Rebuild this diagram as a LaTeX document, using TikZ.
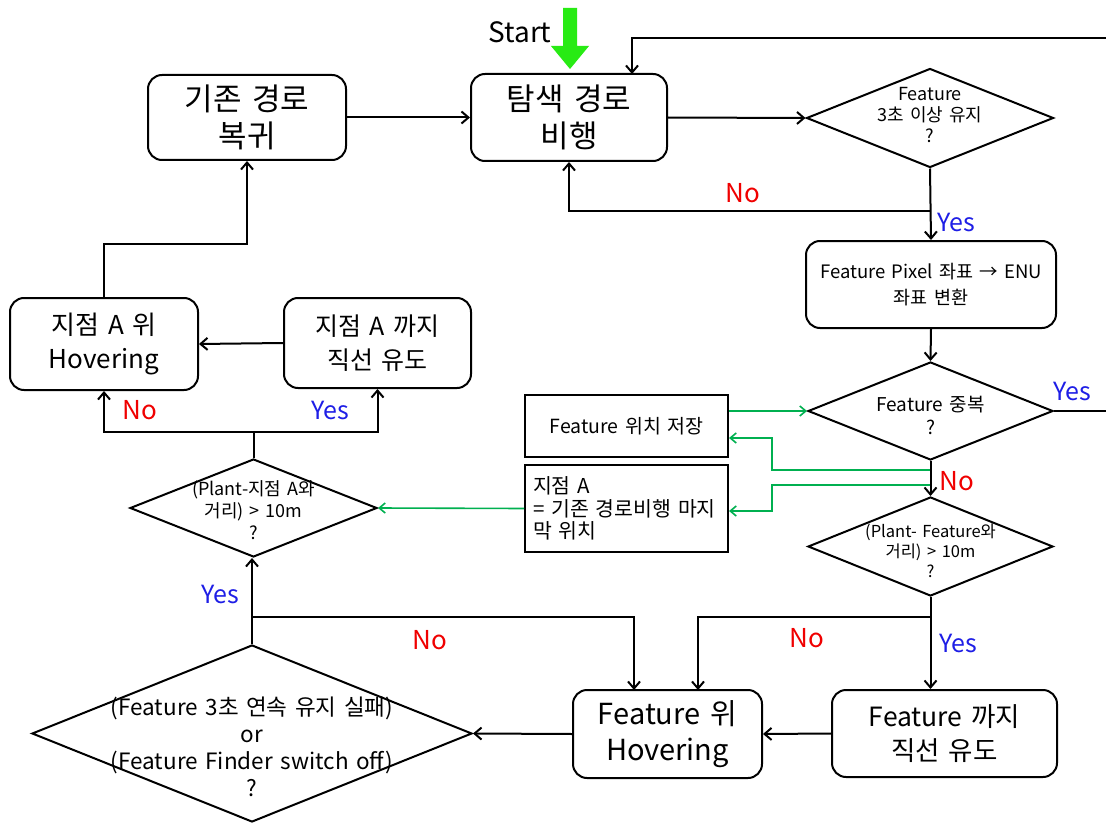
\documentclass[tikz,border=0pt]{standalone}
\usepackage{fontspec}
\setmainfont{Noto Sans CJK KR}[WordSpace=1.5]
\usetikzlibrary{arrows.meta,shapes.geometric}
\definecolor{gline}{RGB}{0,176,80}
\definecolor{startg}{RGB}{40,235,20}
\definecolor{nored}{RGB}{240,0,0}
\definecolor{yesblue}{RGB}{30,30,230}
\tikzset{
  ln/.style={line width=2pt, draw=black},
  arr/.style={ln, -{Straight Barb[length=7pt,width=12pt,line width=2pt]}},
  garr/.style={line width=1.6pt, draw=gline, -{Straight Barb[length=6pt,width=10pt,line width=1.6pt]}},
  rbox/.style={draw, line width=2pt, rounded corners=14pt, align=center, inner sep=0pt},
  sbox/.style={draw, line width=2pt, inner sep=0pt},
  dia/.style={draw, diamond, line width=2pt, inner sep=0pt},
  nolab/.style={text=nored, font=\fontsize{26}{28}\selectfont},
  yeslab/.style={text=yesblue, font=\fontsize{25}{28}\selectfont},
}
\begin{document}
\begin{tikzpicture}[x=1pt,y=-1pt]
\useasboundingbox (0,0) rectangle (1106,824);
\fill[white] (0,0) rectangle (1106,824);

% Start arrow
\fill[startg] (563,8) -- (577,8) -- (577,46) -- (589,46) -- (570,69) -- (551,46) -- (563,46) -- cycle;
\node[font=\fontsize{28}{30}\selectfont] (start) at (520,32) {Start};

% boxes
\node[rbox, minimum width=196pt, minimum height=87pt, font=\fontsize{31}{37}\selectfont] (fly) at (569,117.5) {탐색 경로\\비행};
\node[rbox, minimum width=198pt, minimum height=85pt, font=\fontsize{31}{37}\selectfont] (ret) at (247,117.5) {기존 경로\\복귀};
\node[dia, minimum width=247pt, minimum height=99pt,
  label={[align=center, font=\fontsize{18}{21}\selectfont, yshift=3pt]center:Feature\\3초 이상 유지\\?}] (d1) at (930,118) {};
\node[rbox, minimum width=250pt, minimum height=87pt, font=\fontsize{18.5}{26}\selectfont] (conv) at (931,284.5) {Feature Pixel 좌표 → ENU\\좌표 변환};
\node[dia, minimum width=245pt, minimum height=98pt,
  label={[align=center, font=\fontsize{19}{23}\selectfont, yshift=-4pt]center:Feature 중복\\?}] (d2) at (930.5,411) {};
\node[sbox, minimum width=203pt, minimum height=62pt, font=\fontsize{19.5}{22}\selectfont] (save) at (626.5,426) {Feature 위치 저장};
\node[sbox, minimum width=203pt, minimum height=87pt, font=\fontsize{20.5}{22.5}\selectfont, align=left, text width=187pt] (ptA) at (626.5,508.5) {지점 A\\= 기존 경로비행 마지\\막 위치};
\node[dia, minimum width=245pt, minimum height=99pt,
  label={[align=center, font=\fontsize{16.5}{20}\selectfont, yshift=-4pt]center:(Plant- Feature와\\거리) > 10m\\?}] (d3) at (930.5,546.5) {};
\node[rbox, minimum width=225pt, minimum height=87pt, font=\fontsize{26.5}{34}\selectfont] (guide) at (944.5,733.5) {Feature 까지\\직선 유도};
\node[rbox, minimum width=189pt, minimum height=88pt, font=\fontsize{29}{36}\selectfont] (hov) at (667.5,734) {Feature 위\\Hovering};
\node[dia, minimum width=440pt, minimum height=177pt,
  label={[align=center, font=\fontsize{22.5}{27}\selectfont, yshift=-13pt]center:(Feature 3초 연속 유지 실패)\\or\\(Feature Finder switch off)\\?}] (big) at (252,733.5) {};
\node[dia, minimum width=247pt, minimum height=98pt,
  label={[align=center, font=\fontsize{18}{22}\selectfont, yshift=-2pt]center:(Plant-지점 A와\\거리) > 10m\\?}] (d4) at (253.5,508) {};
\node[rbox, minimum width=188pt, minimum height=92pt, font=\fontsize{26}{34}\selectfont] (hovA) at (104,344) {지점 A 위\\Hovering};
\node[rbox, minimum width=187pt, minimum height=90pt, font=\fontsize{25}{34}\selectfont] (guideA) at (377.5,343) {지점 A 까지\\직선 유도};

% junction coordinates
\coordinate (j1) at (930,211);
\coordinate (tr) at (1108,38);
\coordinate (flyin) at (632,74);
\coordinate (g1a) at (930,470);
\coordinate (g1b) at (772,470);
\coordinate (g2a) at (930,485);
\coordinate (g2b) at (772,485);
\coordinate (j3) at (930.5,617);
\coordinate (hovR) at (698,690);
\coordinate (hovL) at (634,690);
\coordinate (j4) at (252,617);
\coordinate (j5) at (253.5,432);
\coordinate (j6) at (104,244);

% connectors
\draw[arr] (ret) -- (fly);
\draw[arr] (fly.east) -- (d1.west);
\draw[arr] (d1.south) -- (conv.north);
\draw[arr] (j1) -| (fly.south);
\draw[arr] (d2.east) -- (d2.east -| tr) -- (tr) -| (flyin);
\draw[arr] (conv.south) -- (d2.north);
\draw[arr] (d2.south) -- (d3.north);
\draw[garr] (save.east |- d2.west) -- (d2.west);
\draw[garr] (g1a) -- (g1b) -- (g1b |- 0,438) -- (save.east |- 0,438);
\draw[garr] (g2a) -- (g2b) -- (g2b |- 0,511) -- (ptA.east |- 0,511);
\draw[garr] (ptA.west) -- (d4.east);
\draw[arr] (d3.south) -- (d3.south |- guide.north);
\draw[arr] (j3) -| (hovR);
\draw[arr] (guide.west) -- (hov.east);
\draw[arr] (hov.west) -- (big.east);
\draw[arr] (big.north) -- (big.north |- d4.south);
\draw[arr] (j4) -| (hovL);
\draw[ln] (d4.north) -- (j5);
\draw[arr] (j5) -| (hovA.south);
\draw[arr] (j5) -| (guideA.south);
\draw[arr] (guideA.west) -- (hovA.east);
\draw[arr] (hovA.north) -- (j6) -| (ret.south);

% labels
\node[nolab] (n1) at (743,193) {No};
\node[yeslab] (y1) at (956,222) {Yes};
\node[yeslab] (y2) at (1072,391) {Yes};
\node[nolab] (n2) at (957,481) {No};
\node[nolab] (n3) at (807,638) {No};
\node[yeslab] (y3) at (958,643) {Yes};
\node[nolab] (n4) at (430,640) {No};
\node[yeslab] (y4) at (220,594) {Yes};
\node[nolab] (n5) at (140,410) {No};
\node[yeslab] (y5) at (330,410) {Yes};
\end{tikzpicture}
\end{document}
